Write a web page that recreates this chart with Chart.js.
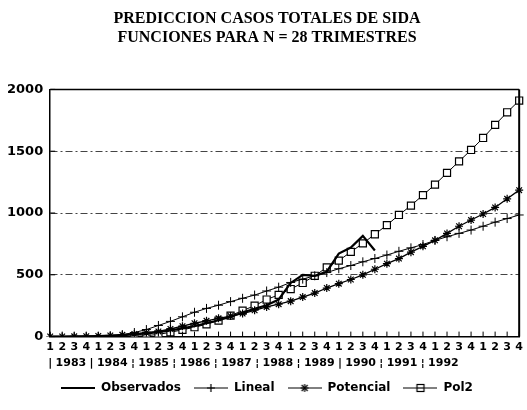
<!DOCTYPE html>
<html><head><meta charset="utf-8">
<script src="https://cdn.jsdelivr.net/npm/chart.js@4.4.0/dist/chart.umd.min.js"></script>
<style>html,body{margin:0;padding:0;background:#fff;}canvas{display:block;}</style>
</head><body>
<canvas id="c" width="527" height="410"></canvas>
<script>
const titleLines = ['PREDICCION CASOS TOTALES DE SIDA', 'FUNCIONES PARA N = 28 TRIMESTRES'];
const quarterLabels = ['1','2','3','4','1','2','3','4','1','2','3','4','1','2','3','4','1','2','3','4',
                       '1','2','3','4','1','2','3','4','1','2','3','4','1','2','3','4','1','2','3','4'];
const yearLabels = ['1983','1984','1985','1986','1987','1988','1989','1990','1991','1992'];
const yearSeparators = ['|','|','¦','¦','¦','¦','¦','|','¦','¦'];
const seriesNames = ['Observados','Lineal','Potencial','Pol2'];

const observados = [0,1,2,3,5,8,12,18,26,36,50,66,85,108,132,160,195,225,254,300,
                    434,500,492,525,672,721,815,697,null,null,null,null,null,null,null,null,null,null,null,null];
const lineal = [null,null,null,null,null,3,16,33,57,90,123,160,197,228,254,283,310,336,369,400,
                438,465,492,518,549,575,605,632,660,690,718,745,778,808,835,862,893,926,955,984];
const potencial = [1,1,2,3,5,9,14,22,31,42,62,84,108,128,148,166,186,213,240,262,
                   287,320,352,393,428,462,500,545,590,631,683,730,779,835,893,943,992,1045,1115,1185];
const pol2 = [null,null,null,null,null,null,null,2,8,18,35,55,76,100,130,170,210,250,300,338,
              385,434,492,560,615,685,754,828,902,984,1060,1145,1230,1325,1418,1510,1607,1713,1815,1910];

function makeIcon(kind, lw) {
  const cv = document.createElement('canvas');
  cv.width = 34; cv.height = 12;
  const g = cv.getContext('2d');
  const c = 17;
  g.strokeStyle = '#000'; g.lineWidth = lw;
  g.beginPath(); g.moveTo(0, 6); g.lineTo(34, 6); g.stroke();
  g.lineWidth = 1.2;
  if (kind === 'cross' || kind === 'star') {
    g.beginPath(); g.moveTo(c - 4, 6); g.lineTo(c + 4, 6); g.moveTo(c, 2); g.lineTo(c, 10); g.stroke();
  }
  if (kind === 'star') {
    g.beginPath(); g.moveTo(c - 3, 3); g.lineTo(c + 3, 9); g.moveTo(c + 3, 3); g.lineTo(c - 3, 9); g.stroke();
  }
  if (kind === 'rect') {
    g.fillStyle = '#fff'; g.fillRect(c - 3.5, 2.5, 7, 7); g.strokeRect(c - 3.5, 2.5, 7, 7);
    g.beginPath(); g.moveTo(c - 3.5, 6); g.lineTo(c + 3.5, 6); g.stroke();
  }
  return cv;
}
const legendIcons = [makeIcon('none', 2), makeIcon('cross', 1), makeIcon('star', 1), makeIcon('rect', 1)];

const framePlugin = {
  id: 'frame',
  afterDatasetsDraw(chart) {
    const {ctx, chartArea: a, scales} = chart;
    ctx.save();
    ctx.strokeStyle = '#000';
    ctx.lineWidth = 1.5;
    ctx.beginPath(); ctx.moveTo(a.left, a.top); ctx.lineTo(a.right, a.top); ctx.stroke();
    ctx.lineWidth = 2;
    ctx.beginPath(); ctx.moveTo(a.right, a.top); ctx.lineTo(a.right, a.bottom); ctx.stroke();
    ctx.lineWidth = 1;
    const xs = scales.x;
    for (let i = 0; i < xs.ticks.length; i++) {
      const px = xs.getPixelForTick(i);
      ctx.beginPath(); ctx.moveTo(px, a.bottom); ctx.lineTo(px, a.bottom - 5); ctx.stroke();
    }
    const ys = scales.y;
    for (let i = 0; i < ys.ticks.length; i++) {
      const py = ys.getPixelForTick(i);
      ctx.beginPath(); ctx.moveTo(a.left, py); ctx.lineTo(a.left + 5, py); ctx.stroke();
    }
    ctx.restore();
  }
};

new Chart(document.getElementById('c'), {
  type: 'line',
  data: {
    labels: quarterLabels,
    datasets: [
      { label: seriesNames[0], data: observados, borderColor: '#000', borderWidth: 2.2, pointRadius: 0, tension: 0 },
      { label: seriesNames[1], data: lineal, borderColor: '#000', borderWidth: 1, pointStyle: 'cross', pointRadius: 4.5, pointBorderWidth: 1, pointBorderColor: '#000', tension: 0 },
      { label: seriesNames[2], data: potencial, borderColor: '#000', borderWidth: 1.3, pointStyle: 'star', pointRadius: 4, pointBorderWidth: 1.2, pointBorderColor: '#000', tension: 0 },
      { label: seriesNames[3], data: pol2, borderColor: '#000', borderWidth: 1, pointStyle: 'rect', pointRadius: 5, pointBorderWidth: 1.2, pointBorderColor: '#000', pointBackgroundColor: '#fff', tension: 0 }
    ]
  },
  options: {
    responsive: false,
    devicePixelRatio: 1,
    animation: false,
    events: [],
    layout: { padding: { left: 0, right: -7, top: 0, bottom: 6 } },
    scales: {
      x: {
        type: 'category', offset: false, weight: 0,
        grid: { display: false, drawTicks: false },
        border: { display: true, color: '#000', width: 1.5 },
        ticks: { autoSkip: false, maxRotation: 0, minRotation: 0, padding: 4,
                 font: { family: 'DejaVu Sans', weight: 'bold', size: 11 }, color: '#000' }
      },
      yr: {
        type: 'linear', axis: 'x', position: 'bottom', weight: 1,
        min: -0.5, max: 10.83,
        grid: { display: false, drawTicks: false },
        border: { display: false },
        ticks: {
          stepSize: 0.5, autoSkip: false, maxRotation: 0, minRotation: 0, padding: -1, includeBounds: false,
          font: { family: 'DejaVu Sans', weight: 'bold', size: 11 }, color: '#000',
          callback: (v) => {
            if (v > 9.6 || v < -0.6) return '';
            const k = Math.round(v * 2);
            if (k % 2 === 0) return yearLabels[k / 2];
            return yearSeparators[(k + 1) / 2];
          }
        }
      },
      y: {
        min: 0, max: 2000,
        grid: { color: '#444', lineWidth: 1, drawTicks: false },
        border: { display: true, color: '#000', width: 1.5, dash: [7, 3, 2, 3] },
        ticks: { stepSize: 500, padding: 7,
                 callback: (v) => String(v),
                 font: { family: 'DejaVu Sans', weight: 'bold', size: 13 }, color: '#000' }
      }
    },
    plugins: {
      title: {
        display: true, text: titleLines, color: '#000',
        font: { family: 'Liberation Serif', weight: 'bold', size: 16, lineHeight: 1.2 },
        padding: { top: 9, bottom: 42 }
      },
      legend: {
        position: 'bottom',
        labels: {
          usePointStyle: true, pointStyleWidth: 34, boxHeight: 12, padding: 13,
          font: { family: 'DejaVu Sans', weight: 'bold', size: 12 }, color: '#000',
          generateLabels: (chart) => chart.data.datasets.map((ds, i) => ({
            text: ds.label, pointStyle: legendIcons[i], fillStyle: '#fff', strokeStyle: '#000',
            lineWidth: 1, hidden: false, datasetIndex: i, fontColor: '#000'
          }))
        }
      },
      tooltip: { enabled: false }
    }
  },
  plugins: [framePlugin]
});
</script>
</body></html>
